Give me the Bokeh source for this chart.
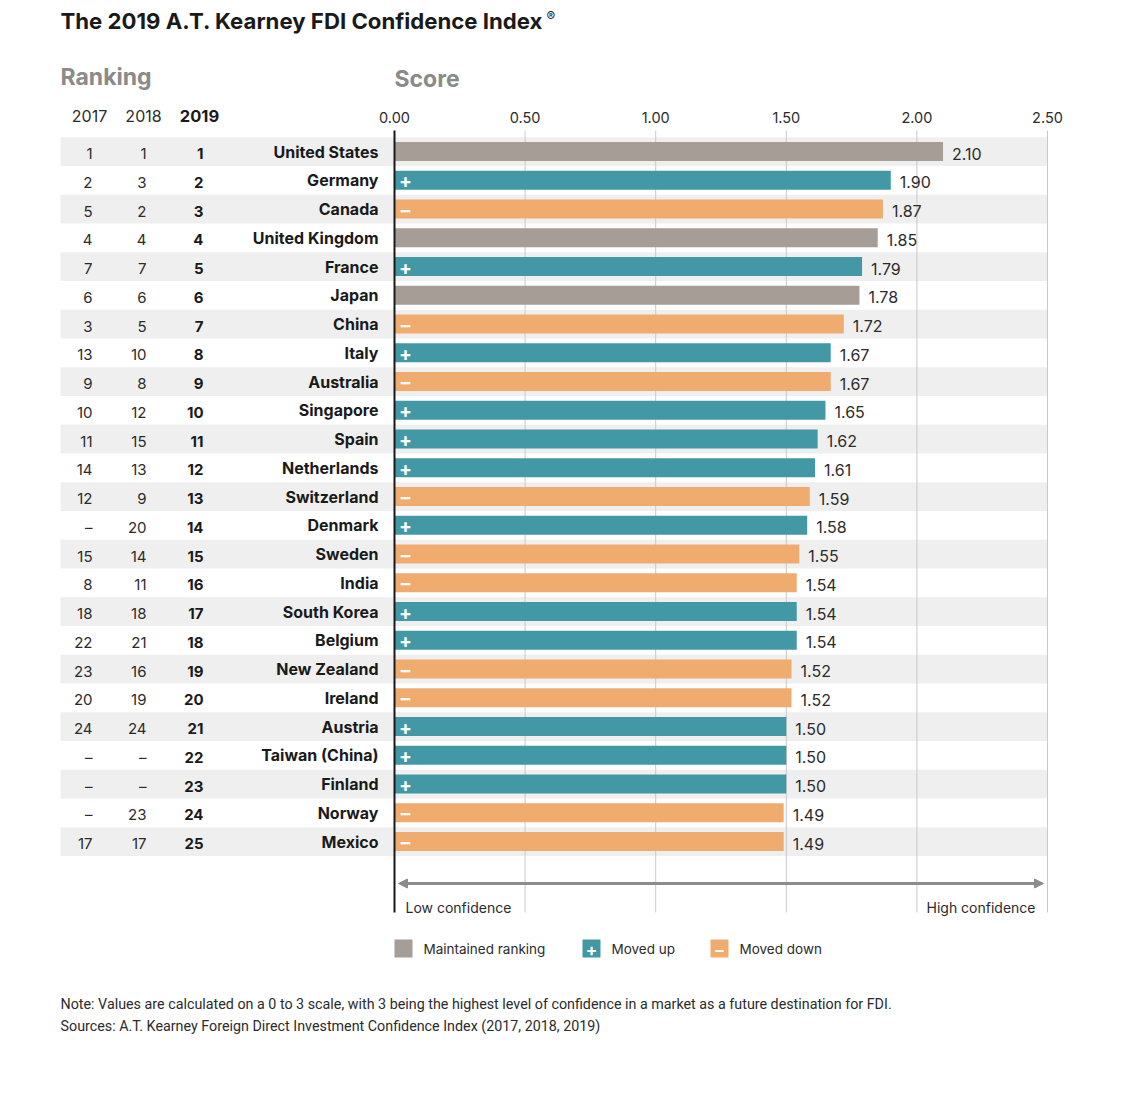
from bokeh.plotting import figure
from bokeh.models import Range1d, ColumnDataSource, Arrow, NormalHead
from bokeh.core.properties import value
from bokeh.embed import file_html
from bokeh.resources import INLINE

countries = ["United States", "Germany", "Canada", "United Kingdom", "France", "Japan", "China",
             "Italy", "Australia", "Singapore", "Spain", "Netherlands", "Switzerland", "Denmark",
             "Sweden", "India", "South Korea", "Belgium", "New Zealand", "Ireland", "Austria",
             "Taiwan (China)", "Finland", "Norway", "Mexico"]
scores = [2.10, 1.90, 1.87, 1.85, 1.79, 1.78, 1.72, 1.67, 1.67, 1.65, 1.62, 1.61, 1.59, 1.58,
          1.55, 1.54, 1.54, 1.54, 1.52, 1.52, 1.50, 1.50, 1.50, 1.49, 1.49]
rank_2017 = ["1", "2", "5", "4", "7", "6", "3", "13", "9", "10", "11", "14", "12", "–", "15",
             "8", "18", "22", "23", "20", "24", "–", "–", "–", "17"]
rank_2018 = ["1", "3", "2", "4", "7", "6", "5", "10", "8", "12", "15", "13", "9", "20", "14",
             "11", "18", "21", "16", "19", "24", "–", "–", "23", "17"]
rank_2019 = [str(i) for i in range(1, 26)]
status = ["same", "up", "down", "same", "up", "same", "down", "up", "down", "up", "up", "up",
          "down", "up", "down", "down", "up", "up", "down", "down", "up", "up", "up", "down", "down"]
ticks = [0.0, 0.5, 1.0, 1.5, 2.0, 2.5]
tick_labels = ["0.00", "0.50", "1.00", "1.50", "2.00", "2.50"]
legend_labels = ["Maintained ranking", "Moved up", "Moved down"]
legend_status = ["same", "up", "down"]

COLORS = {"same": "#a59d96", "up": "#4298a4", "down": "#efac6e"}
SIGNS = {"same": "", "up": "+", "down": "–"}

# layout helpers (page pixel -> data units)
X0, K = 394.0, 261.2
ROW0, RS = 151.0, 28.75


def sx(px):
    return (px - X0) / K


def ry(py):
    return 1 + (py - ROW0) / RS


FONT = "Inter"
TXT = "#2b2b2b"

p = figure(width=1108, height=1080, output_backend="svg", toolbar_location=None,
           x_range=Range1d(sx(0), sx(1108)), y_range=Range1d(ry(1080), ry(0)),
           x_axis_type=None, y_axis_type=None, min_border=0)
p.min_border_left = p.min_border_right = p.min_border_top = p.min_border_bottom = 0
p.outline_line_color = None
p.background_fill_color = "white"
p.border_fill_color = "white"

n = len(countries)
rows = list(range(1, n + 1))

# alternating row bands
band_rows = [r for r in rows if r % 2 == 1]
p.quad(left=[sx(60)] * len(band_rows), right=[ticks[-1]] * len(band_rows),
       top=[r - 0.5 for r in band_rows], bottom=[r + 0.5 for r in band_rows],
       fill_color="#efefef", line_color=None)

# gridlines
gtop, gbot = ry(130), ry(912)
p.segment(x0=ticks[1:], x1=ticks[1:], y0=[gtop] * 5, y1=[gbot] * 5, line_color="#c9c9c9", line_width=1)

# bars
src = ColumnDataSource(dict(
    y=rows, score=scores, color=[COLORS[s] for s in status], sign=[SIGNS[s] for s in status],
    lab=["%.2f" % v for v in scores], country=countries, r17=rank_2017, r18=rank_2018, r19=rank_2019,
    zero=[0] * n))
p.hbar(y="y", left="zero", right="score", height=19 / RS, fill_color="color", line_color=None, source=src)

# zero axis line
p.segment(x0=[0], x1=[0], y0=[gtop], y1=[gbot], line_color="#1a1a1a", line_width=2)

# signs inside bars
p.text(x=sx(405), y="y", text="sign", source=src, text_color="white", text_font=value(FONT),
       text_font_style="bold", text_font_size="19px", text_align="center", text_baseline="middle",
       y_offset=1)

# value labels
p.text(x="score", y="y", text="lab", source=src, x_offset=9, y_offset=2, text_color=TXT,
       text_font=value(FONT), text_font_size="16px", text_align="left", text_baseline="middle")

# country names
p.text(x=sx(378), y="y", text="country", source=src, text_color="#1a1a1a", text_font=value(FONT),
       text_font_style="bold", text_font_size="16px", text_align="right", text_baseline="middle")

# rank columns (right aligned)
p.text(x=sx(92), y="y", text="r17", source=src, text_color=TXT, text_font=value(FONT),
       text_font_size="15px", text_align="right", text_baseline="middle", y_offset=2)
p.text(x=sx(146), y="y", text="r18", source=src, text_color=TXT, text_font=value(FONT),
       text_font_size="15px", text_align="right", text_baseline="middle", y_offset=2)
p.text(x=sx(203), y="y", text="r19", source=src, text_color="#1a1a1a", text_font=value(FONT),
       text_font_style="bold", text_font_size="15px", text_align="right", text_baseline="middle", y_offset=2)

# tick labels
p.text(x=ticks, y=[ry(117)] * len(ticks), text=tick_labels, text_color=TXT, text_font=value(FONT),
       text_font_size="14.5px", text_align="center", text_baseline="middle")

# column headers
p.text(x=[sx(89), sx(143)], y=[ry(115)] * 2, text=["2017", "2018"], text_color=TXT,
       text_font=value(FONT), text_font_size="16px", text_align="center", text_baseline="middle")
p.text(x=[sx(199)], y=[ry(115)], text=["2019"], text_color="#1a1a1a", text_font=value(FONT),
       text_font_style="bold", text_font_size="16.5px", text_align="center", text_baseline="middle")

# section headers
p.text(x=[sx(60), sx(394)], y=[ry(76), ry(78)], text=["Ranking", "Score"], text_color="#8a8a8a",
       text_font=value(FONT), text_font_style="bold", text_font_size="23px", text_align="left",
       text_baseline="middle")

# title
p.text(x=[sx(60)], y=[ry(20)], text=["The 2019 A.T. Kearney FDI Confidence Index"], text_color="#1a1a1a",
       text_font=value(FONT), text_font_style="bold", text_font_size="22.2px", text_align="left",
       text_baseline="middle")
p.text(x=[sx(546)], y=[ry(15)], text=["®"], text_color="#1a1a1a", text_font=value(FONT),
       text_font_size="13px", text_align="left", text_baseline="middle")

# confidence arrow
ay = ry(883)
head_l = NormalHead(size=9, fill_color="#8c8c8c", line_color="#8c8c8c")
head_r = NormalHead(size=9, fill_color="#8c8c8c", line_color="#8c8c8c")
p.add_layout(Arrow(x_start=sx(398), y_start=ay, x_end=sx(1043), y_end=ay, start=head_l, end=head_r,
                   line_color="#8c8c8c", line_width=3))
p.text(x=[sx(405)], y=[ry(907)], text=["Low confidence"], text_color=TXT, text_font=value(FONT),
       text_font_size="14px", text_align="left", text_baseline="middle")
p.text(x=[sx(1035)], y=[ry(907)], text=["High confidence"], text_color=TXT, text_font=value(FONT),
       text_font_size="14px", text_align="right", text_baseline="middle")

# legend
lx = [sx(403), sx(591), sx(719)]
ly = ry(948)
p.scatter(x=lx, y=[ly] * 3, marker="square", size=18, fill_color=[COLORS[s] for s in legend_status],
          line_color=None)
p.text(x=lx, y=[ly] * 3, text=[SIGNS[s] for s in legend_status], text_color="white", text_font=value(FONT),
       text_font_style="bold", text_font_size="17px", text_align="center", text_baseline="middle",
       y_offset=1)
p.text(x=[sx(423), sx(611), sx(739)], y=[ly] * 3, text=legend_labels, text_color=TXT,
       text_font=value(FONT), text_font_size="13.5px", text_align="left", text_baseline="middle")

# notes
p.text(x=[sx(60), sx(60)], y=[ry(1003), ry(1025)],
       text=["Note: Values are calculated on a 0 to 3 scale, with 3 being the highest level of confidence in a market as a future destination for FDI.",
             "Sources: A.T. Kearney Foreign Direct Investment Confidence Index (2017, 2018, 2019)"],
       text_color=TXT, text_font=value("Roboto"), text_font_size="14.3px",
       text_align="left", text_baseline="middle")

open("out.html", "w").write(file_html(p, INLINE))
